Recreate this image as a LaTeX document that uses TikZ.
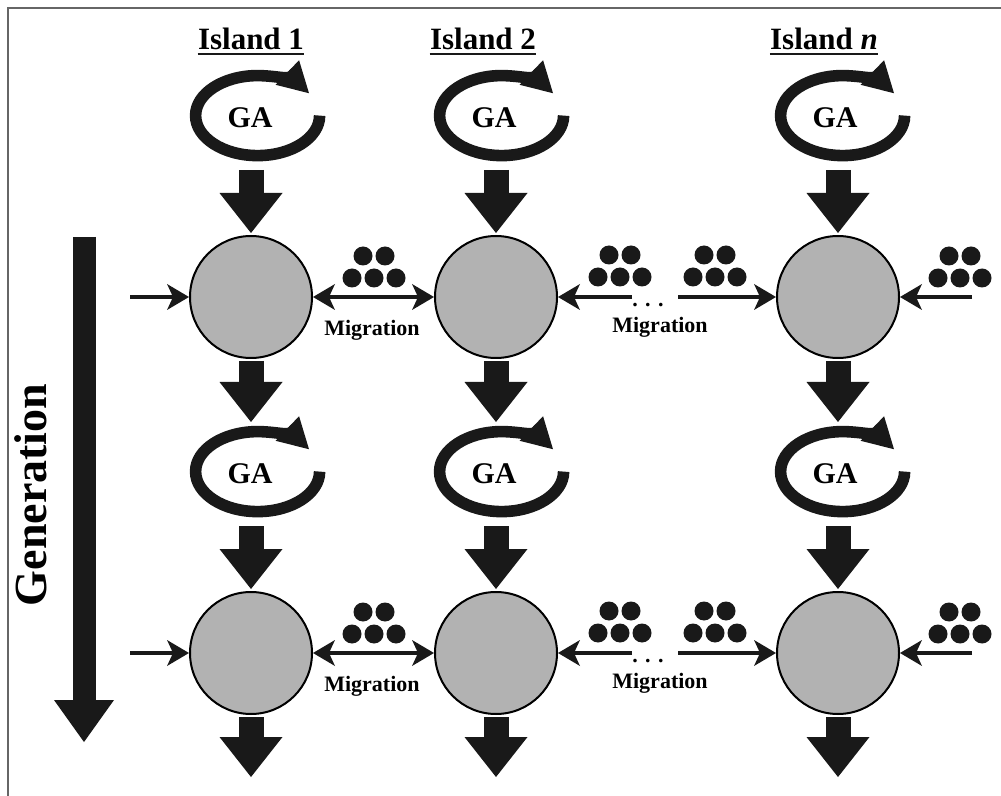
\documentclass[tikz,border=0pt]{standalone}
\usepackage{fontspec}
\setmainfont{Liberation Serif}
\usetikzlibrary{arrows.meta,calc}
\begin{document}
\begin{tikzpicture}[x=0.5pt,y=-0.5pt,
  isl/.style={font=\fontsize{15.5pt}{18pt}\selectfont\bfseries, inner sep=0pt, anchor=base},
  gatext/.style={font=\fontsize{15pt}{18pt}\selectfont\bfseries, inner sep=0pt},
  migr/.style={font=\fontsize{11pt}{13pt}\selectfont\bfseries, inner sep=0pt},
  pop/.style={circle, draw=black, line width=1pt, fill=black!30, minimum size=61pt, inner sep=0pt},
  galoop/.style={draw=black!90, line width=5.8pt, -{Triangle[length=15pt 0 0, width=17pt 0 0, line width=0pt 0 0]}},
  blk/.style={draw=black!90, line width=12.5pt, -{Triangle[length=20pt 0 0, width=31.5pt 0 0, line width=0pt 0 0]}},
  genarr/.style={draw=black!90, line width=11.5pt, -{Triangle[length=21pt 0 0, width=30pt 0 0, line width=0pt 0 0]}},
  sarr/.style={draw=black!90, line width=2pt, >={Stealth[length=11pt 0 0, width=13pt 0 0, inset=3pt 0 0, line width=0pt 0 0]}, ->},
  dots/.pic={\foreach \p in {(-22,0),(0,0),(22,0),(-11,-22),(11,-22)} \fill[black!90] \p circle[radius=4.75pt];}
]
\useasboundingbox (0,0) rectangle (1001,796);
\fill[white] (0,0) rectangle (1001,796);
% frame
\draw[black!60, line width=1pt] (7.5,796) -- (7.5,8.5) -- (1001,8.5);

% island labels
\node[isl] (i1) at (251,50) {Island 1};
\node[isl] (i2) at (483,50) {Island 2};
\node[isl] (i3) at (824,50) {Island \textit{n}};
\foreach \i in {1,2,3}
  \draw[black!90, line width=1pt] ([yshift=-1.9pt]i\i.base west) -- ([yshift=-1.9pt]i\i.base east);

% generation
\node[rotate=90, font=\fontsize{23pt}{26pt}\selectfont\bfseries, inner sep=0pt] (gen) at (31,495) {Generation};
\coordinate (gt) at (84,237);
\coordinate (gb) at (84,742);
\draw[genarr] (gt) -- (gb);

% rows
\foreach \r/\dy in {1/0,2/356}{
  \foreach \c/\x/\gx in {1/251/250, 2/496/494, 3/838/835}{
    \node[pop] (c\r\c) at (\x,{297+\dy}) {};
    \node[gatext] (g\r\c) at (\gx,{118+\dy}) {GA};
    \coordinate (s\r\c) at (c\r\c.north |- g\r\c.center);
    \draw[galoop] ([shift={(3.8pt,1.2pt)}]g\r\c.center) ++(0:31pt and 20pt)
      arc[start angle=0, end angle=-326, x radius=31pt, y radius=20pt];
    \draw[blk] ([yshift=-26pt]s\r\c) -- ([yshift=1pt]c\r\c.north);
  }
  \coordinate (in\r) at (130,{297+\dy});
  \coordinate (la\r) at (632,{297+\dy});
  \coordinate (ra\r) at (678,{297+\dy});
  \coordinate (rr\r) at (972,{297+\dy});
  \draw[sarr] (in\r) -- (c\r1.west);
  \draw[sarr,<->] (c\r1.east) -- (c\r2.west);
  \draw[sarr] (la\r) -- (c\r2.east);
  \draw[sarr] (ra\r) -- (c\r3.west);
  \draw[sarr] (rr\r) -- (c\r3.east);
  \pic at (374,{278+\dy}) {dots};
  \pic at (620,{277+\dy}) {dots};
  \pic at (715,{277+\dy}) {dots};
  \pic at (960,{278+\dy}) {dots};
  \node[migr] (m\r a) at (372,{330+\dy}) {Migration};
  \node[migr] (m\r b) at (660,{327+\dy}) {Migration};
  \node[migr] (el\r) at (648,{305+\dy}) {.\hspace{3.75pt}.\hspace{3.75pt}.};
}

% arrows between rows and at bottom
\foreach \c/\x in {1/251,2/496,3/838}{
  \draw[blk] ([yshift=-1pt]c1\c.south) -- ([yshift=26pt]s2\c);
  \coordinate (e\c) at (\x,777);
  \draw[blk] ([yshift=-1pt]c2\c.south) -- (e\c);
}
\end{tikzpicture}
\end{document}
